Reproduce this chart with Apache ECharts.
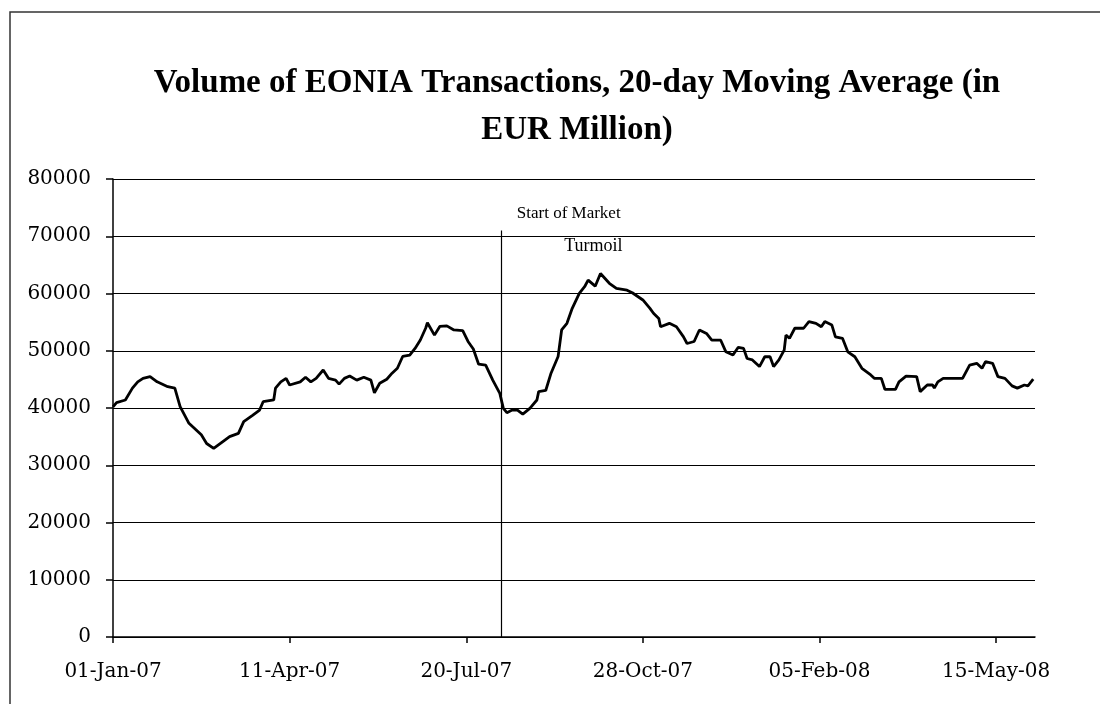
<!DOCTYPE html>
<html lang="en">
<head>
    <meta charset="UTF-8">
    <script type="text/javascript" src="https://cdn.jsdelivr.net/npm/echarts@6/dist/echarts.min.js"></script>
    <style>
        html, body {
            margin: 0;
            overflow: hidden;
            background: #fff;
        }
        #viewport {
            position: absolute;
            left: 0px;
            top: 0px;
            width: 1100px;
            height: 704px;
        }
    </style>
</head>
<body>
<div id="viewport"></div>
<script>
    // EONIA volume, 20-day moving average (EUR million)
    var dates = [
        '2007-01-01', '2007-01-03', '2007-01-08', '2007-01-12', '2007-01-15', '2007-01-18', '2007-01-22', '2007-01-26',
        '2007-02-01', '2007-02-05', '2007-02-08', '2007-02-13', '2007-02-20', '2007-02-23', '2007-02-27',
        '2007-03-04', '2007-03-08', '2007-03-13', '2007-03-16', '2007-03-21', '2007-03-25', '2007-03-27',
        '2007-04-02', '2007-04-03', '2007-04-06', '2007-04-09', '2007-04-11', '2007-04-12', '2007-04-17', '2007-04-20',
        '2007-04-23', '2007-04-26', '2007-04-30',
        '2007-05-03', '2007-05-07', '2007-05-09', '2007-05-12', '2007-05-15', '2007-05-19', '2007-05-23', '2007-05-27', '2007-05-29',
        '2007-06-01', '2007-06-05', '2007-06-08', '2007-06-11', '2007-06-14', '2007-06-18', '2007-06-21', '2007-06-24', '2007-06-27', '2007-06-28',
        '2007-07-02', '2007-07-05', '2007-07-09', '2007-07-13', '2007-07-18', '2007-07-21', '2007-07-24', '2007-07-27', '2007-07-31',
        '2007-08-04', '2007-08-08', '2007-08-10', '2007-08-12', '2007-08-15', '2007-08-18', '2007-08-21', '2007-08-25', '2007-08-29', '2007-08-30',
        '2007-09-03', '2007-09-06', '2007-09-10', '2007-09-12', '2007-09-15', '2007-09-18', '2007-09-22', '2007-09-25', '2007-09-27',
        '2007-10-01', '2007-10-04', '2007-10-09', '2007-10-13', '2007-10-19', '2007-10-22', '2007-10-28',
        '2007-11-01', '2007-11-03', '2007-11-06', '2007-11-07', '2007-11-12', '2007-11-16', '2007-11-20', '2007-11-22', '2007-11-26', '2007-11-29',
        '2007-12-03', '2007-12-06', '2007-12-11', '2007-12-14', '2007-12-18', '2007-12-21', '2007-12-24', '2007-12-26', '2007-12-29',
        '2008-01-02', '2008-01-05', '2008-01-08', '2008-01-10', '2008-01-13', '2008-01-16', '2008-01-17', '2008-01-19', '2008-01-22', '2008-01-27', '2008-01-30',
        '2008-02-03', '2008-02-06', '2008-02-08', '2008-02-12', '2008-02-14', '2008-02-18', '2008-02-21', '2008-02-25', '2008-02-29',
        '2008-03-05', '2008-03-07', '2008-03-11', '2008-03-13', '2008-03-19', '2008-03-21', '2008-03-25', '2008-03-31',
        '2008-04-02', '2008-04-06', '2008-04-09', '2008-04-10', '2008-04-12', '2008-04-15', '2008-04-21', '2008-04-26', '2008-04-30',
        '2008-05-04', '2008-05-07', '2008-05-09', '2008-05-13', '2008-05-16', '2008-05-20', '2008-05-24', '2008-05-27', '2008-05-31',
        '2008-06-02', '2008-06-05'
    ];
    var volumes = [
        40200, 40950, 41400, 43470, 44570, 45180, 45480, 44570,
        43720, 43470, 40240, 37330, 35310, 33800, 32950,
        34100, 35010, 35560, 37630, 38730, 39640, 41100,
        41400, 43470, 44570, 45180, 44020, 43850, 44570, 45380,
        44570, 45180, 46640,
        45180, 44870, 44170, 45180, 45580, 44870, 45380, 44870, 42660,
        44320, 45030, 46080, 46940, 49000, 49250, 50410, 51870, 53930, 54890,
        52730, 54240, 54340, 53630, 53530, 51620, 50300, 47650, 47500,
        44870, 42560, 39940, 39190, 39640, 39640, 38930, 39940, 41400, 42860,
        43060, 46080, 49000, 53630, 54790, 57410, 60030, 61180, 62340,
        61280, 63500, 61790, 60880, 60580, 60130, 58870,
        57400, 56550, 55650, 54190, 54790, 54190, 52430, 51270, 51620, 53630,
        53030, 51870, 51870, 49810, 49250, 50610, 50410, 48650, 48400,
        47240, 48950, 48950, 47240, 48400, 50110, 52730, 52170, 53930, 53930, 55090,
        54790, 54190, 55090, 54490, 52430, 52170, 49810, 48950, 46940,
        45780, 45180, 45180, 43270, 43270, 44570, 45580, 45480,
        42860, 44020, 44020, 43470, 44570, 45180, 45180, 45180, 47500,
        47800, 46940, 48100, 47800, 45480, 45180, 43870, 43470, 44020,
        43870, 45030
    ];
    var tickDates = ['2007-01-01', '2007-04-11', '2007-07-20', '2007-10-28', '2008-02-05', '2008-05-15'];
    var endDate = '2008-06-06';
    var turmoilDate = '2007-08-09';
    var turmoilTop = 71000;

    var DAY = 86400000;
    var START = Date.UTC(2007, 0, 1);
    var MONTHS = ['Jan', 'Feb', 'Mar', 'Apr', 'May', 'Jun', 'Jul', 'Aug', 'Sep', 'Oct', 'Nov', 'Dec'];

    // days since 01-Jan-07, so the axis can tick every 100 days like the original
    function dayOf(s) {
        var p = s.split('-');
        return Math.round((Date.UTC(+p[0], +p[1] - 1, +p[2]) - START) / DAY);
    }
    function fmtDay(d) {
        var t = new Date(START + d * DAY);
        var dd = t.getUTCDate();
        return (dd < 10 ? '0' : '') + dd + '-' + MONTHS[t.getUTCMonth()] + '-' + String(t.getUTCFullYear()).slice(2);
    }

    var seriesData = dates.map(function (d, i) {
        return [dayOf(d), volumes[i]];
    });
    var ticks = tickDates.map(dayOf);
    var tDay = dayOf(turmoilDate);

    var serif = 'DejaVu Serif';
    var myChart = echarts.init(document.getElementById('viewport'));

    var option = {
        animation: false,
        backgroundColor: '#fff',
        title: {
            text: 'Volume of EONIA Transactions, 20-day Moving Average (in\nEUR Million)',
            left: 572,
            top: 55,
            textAlign: 'center',
            textStyle: {
                fontFamily: 'Liberation Serif',
                fontWeight: 'bold',
                fontSize: 33,
                lineHeight: 47,
                color: '#000'
            }
        },
        grid: {
            left: 113,
            right: 65,
            top: 179,
            bottom: 67
        },
        xAxis: {
            type: 'value',
            min: 0,
            max: dayOf(endDate),
            interval: 100,
            splitLine: { show: false },
            axisLine: { lineStyle: { color: '#000', width: 1.5 } },
            axisTick: {
                customValues: ticks,
                length: 6,
                lineStyle: { color: '#000', width: 1.5 }
            },
            axisLabel: {
                customValues: ticks,
                formatter: fmtDay,
                margin: 25,
                fontFamily: serif,
                fontSize: 20,
                color: '#000'
            }
        },
        yAxis: {
            type: 'value',
            min: 0,
            max: 80000,
            interval: 10000,
            axisLine: { show: true, lineStyle: { color: '#000', width: 1.5 } },
            axisTick: { show: true, length: 7, lineStyle: { color: '#000', width: 1.5 } },
            axisLabel: {
                margin: 22,
                formatter: function (v) { return String(v); },
                fontFamily: serif,
                fontSize: 20,
                color: '#000'
            },
            splitLine: { lineStyle: { color: '#000', width: 1.2 } }
        },
        series: [{
            type: 'line',
            data: seriesData,
            symbol: 'none',
            lineStyle: { color: '#000', width: 2.8 },
            markLine: {
                silent: true,
                symbol: 'none',
                label: { show: false },
                lineStyle: { color: '#000', width: 1.2, type: 'solid' },
                data: [[{ coord: [tDay, 0] }, { coord: [tDay, turmoilTop] }]]
            }
        }]
    };
    myChart.setOption(option);

    // annotation text, placed in data space next to the turmoil line
    var p1 = myChart.convertToPixel({ gridIndex: 0 }, [tDay + 38, 74000]);
    var p2 = myChart.convertToPixel({ gridIndex: 0 }, [tDay + 52, 68300]);
    myChart.setOption({
        graphic: [
            {
                type: 'rect',
                shape: { x: 10, y: 12, width: 1200, height: 800 },
                style: { fill: 'none', stroke: '#333', lineWidth: 1.5 },
                silent: true
            },
            {
                type: 'text', x: p1[0], y: p1[1],
                style: { text: 'Start of Market', font: '17px "Liberation Serif"', fill: '#000', align: 'center', verticalAlign: 'middle' }
            },
            {
                type: 'text', x: p2[0], y: p2[1],
                style: { text: 'Turmoil', font: '18px "Liberation Serif"', fill: '#000', align: 'center', verticalAlign: 'middle' }
            }
        ]
    });
</script>
</body>
</html>
